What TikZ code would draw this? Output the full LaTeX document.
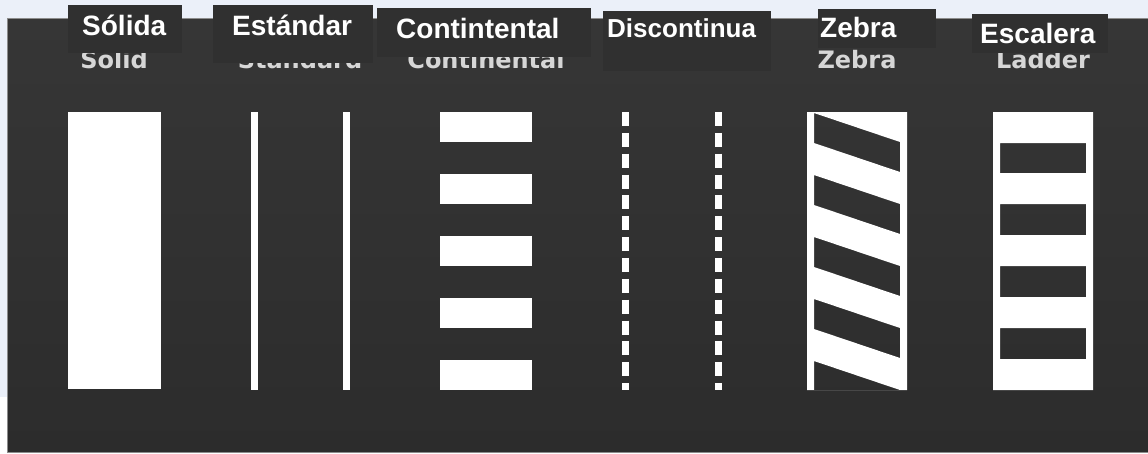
\documentclass[tikz,border=0pt]{standalone}
\usepackage{fontspec}
\setmainfont{Liberation Sans}
\newfontfamily\oldfont{DejaVu Sans}
\definecolor{pagebg}{HTML}{EBF0F9}
\definecolor{roadtop}{HTML}{363636}
\definecolor{roadbot}{HTML}{2C2C2C}
\definecolor{labelbox}{HTML}{303030}
\definecolor{oldtext}{HTML}{D6D6D6}
\definecolor{edgegray}{HTML}{8C8C8C}
\begin{document}
\begin{tikzpicture}[x=1pt,y=-1pt,
  paint/.style={fill=white},
  newlabel/.style={inner sep=0pt, anchor=base west, text=white, font=\fontsize{28}{30}\selectfont\bfseries},
  oldlabel/.style={inner sep=0pt, anchor=base, text=oldtext, font=\oldfont\fontsize{24}{26}\selectfont\bfseries},
  boxfill/.style={fill=labelbox}]
\useasboundingbox (0,0) rectangle (1148,453);
% page and road surface
\fill[pagebg] (0,0) rectangle (1148,453);
\fill[white] (0,397) rectangle (7,453);
\shade[top color=roadtop, bottom color=roadbot] (7,18) rectangle (1148,452);
\draw[edgegray, line width=0.8pt] (1148,18) -- (7,18) -- (7,452) -- (1148,452);

% original English labels
\node[oldlabel] (oSolid) at (114,68) {Solid};
\node[oldlabel] (oStandard) at (300,68) {Standard};
\node[oldlabel] (oContinental) at (486,68) {Continental};
\node[oldlabel] (oZebra) at (857,68) {Zebra};
\node[oldlabel] (oLadder) at (1043,68) {Ladder};

% Solid
\fill[paint] (68,112) rectangle (161,389);
% Standard
\fill[paint] (251,112) rectangle (258,390);
\fill[paint] (343,112) rectangle (350,390);
% Continental
\foreach \k in {0,...,4}
  \fill[paint] (440,112+62*\k) rectangle (532,142+62*\k);
% Dashed
\draw[white, line width=7pt, dash pattern=on 14pt off 6.85pt] (625.5,112) -- (625.5,390);
\draw[white, line width=7pt, dash pattern=on 14pt off 6.85pt] (718,112) -- (718,390);
% Zebra
\fill[paint, even odd rule] (807,112) rectangle (907,390)
  (814,113) -- (900,142) -- (900,172) -- (814,143) -- cycle
  (814,175) -- (900,204) -- (900,234) -- (814,205) -- cycle
  (814,237) -- (900,266) -- (900,296) -- (814,267) -- cycle
  (814,299) -- (900,328) -- (900,358) -- (814,329) -- cycle
  (814,361) -- (900,390) -- (814,390) -- cycle;
% Ladder
\fill[paint, even odd rule] (993,112) rectangle (1093,390)
  (1000,143) rectangle (1086,173)
  (1000,204) rectangle (1086,235)
  (1000,266) rectangle (1086,297)
  (1000,328) rectangle (1086,359);

% Spanish label boxes
\fill[boxfill] (68,5) rectangle (182,53);
\fill[boxfill] (213,5) rectangle (373,63);
\fill[boxfill] (377,8) rectangle (591,57);
\fill[boxfill] (603,11) rectangle (771,71);
\fill[boxfill] (818,9) rectangle (936,48);
\fill[boxfill] (972,14) rectangle (1108,53);
\node[newlabel] (sSolida) at (82,35) {Sólida};
\node[newlabel] (sEstandar) at (232,35) {Estándar};
\node[newlabel] (sContintental) at (396,38) {Contintental};
\node[newlabel, font=\fontsize{26}{28}\selectfont\bfseries] (sDiscontinua) at (607,37) {Discontinua};
\node[newlabel] (sZebra) at (820,37) {Zebra};
\node[newlabel] (sEscalera) at (980,43) {Escalera};
\end{tikzpicture}
\end{document}
